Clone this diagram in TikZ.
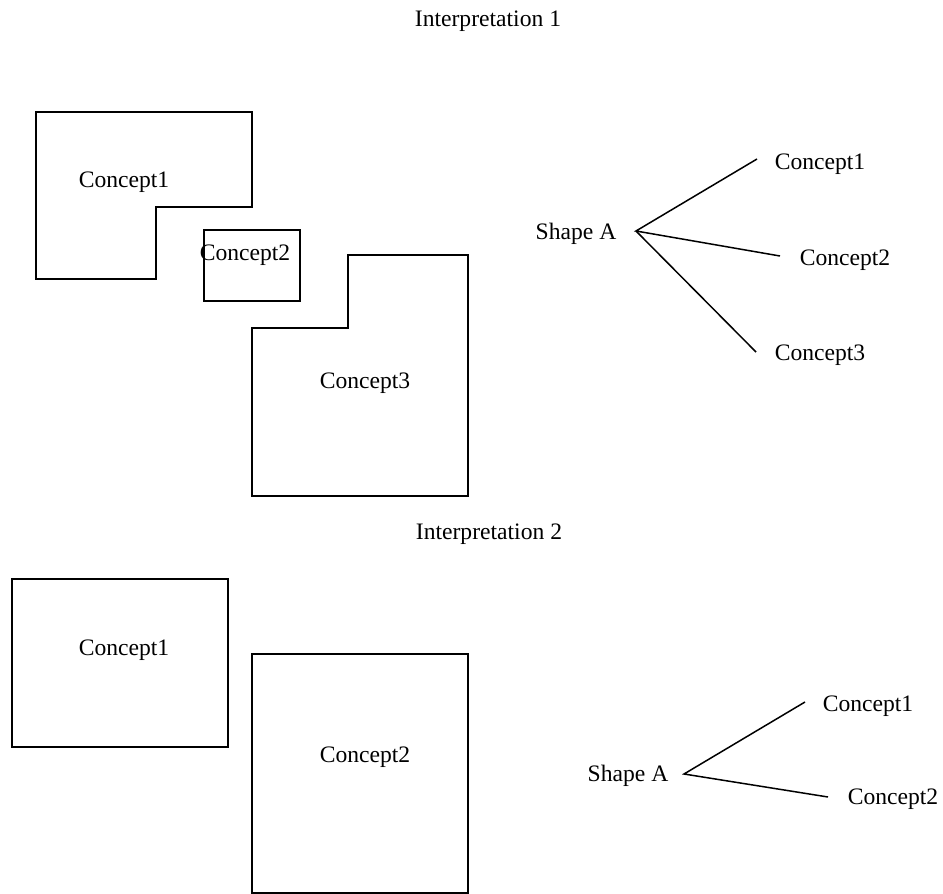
\documentclass[tikz,border=0pt]{standalone}
\usepackage{fontspec}
\setmainfont{Liberation Serif}
\begin{document}
\begin{tikzpicture}[x=1pt,y=-1pt,
  every node/.style={font=\fontsize{23.6}{28}\selectfont, inner sep=0pt, anchor=base},
  region/.style={draw=black, line width=1.8pt, line join=miter},
  branch/.style={draw=black, line width=1.5pt}]
\useasboundingbox (0,0) rectangle (943,894);

% ---------- first reading ----------
\node (t1) at (488,27) {Interpretation 1};

\draw[region] (36,112) -- (252,112) -- (252,207) -- (156,207) -- (156,279) -- (36,279) -- cycle;
\draw[region] (204,230) rectangle (300,301);
\draw[region] (252,328) -- (348,328) -- (348,255) -- (468,255) -- (468,496) -- (252,496) -- cycle;

\node (a1) at (124,187) {Concept1};
\node (a2) at (245,260) {Concept2};
\node (a3) at (365,388) {Concept3};

\node (sA) at (576,239) {Shape A};
\node (b1) at (820,169) {Concept1};
\node (b2) at (845,265) {Concept2};
\node (b3) at (820,360) {Concept3};

\coordinate (jA) at (636,231);
\coordinate (e1) at (757,159);
\coordinate (e2) at (780,256);
\coordinate (e3) at (756,352);
\draw[branch] (e1) -- (jA) -- (e2);
\draw[branch] (jA) -- (e3);

% ---------- second reading ----------
\node (t2) at (489,539) {Interpretation 2};

\draw[region] (12,579) rectangle (228,747);
\draw[region] (252,654) rectangle (468,893);

\node (c1) at (124,655) {Concept1};
\node (c2) at (365,762) {Concept2};

\node (sB) at (628,781) {Shape A};
\node (d1) at (868,711) {Concept1};
\node (d2) at (893,804) {Concept2};

\coordinate (jB) at (684,774);
\coordinate (f1) at (805,702);
\coordinate (f2) at (828,797);
\draw[branch] (f1) -- (jB) -- (f2);
\end{tikzpicture}
\end{document}
